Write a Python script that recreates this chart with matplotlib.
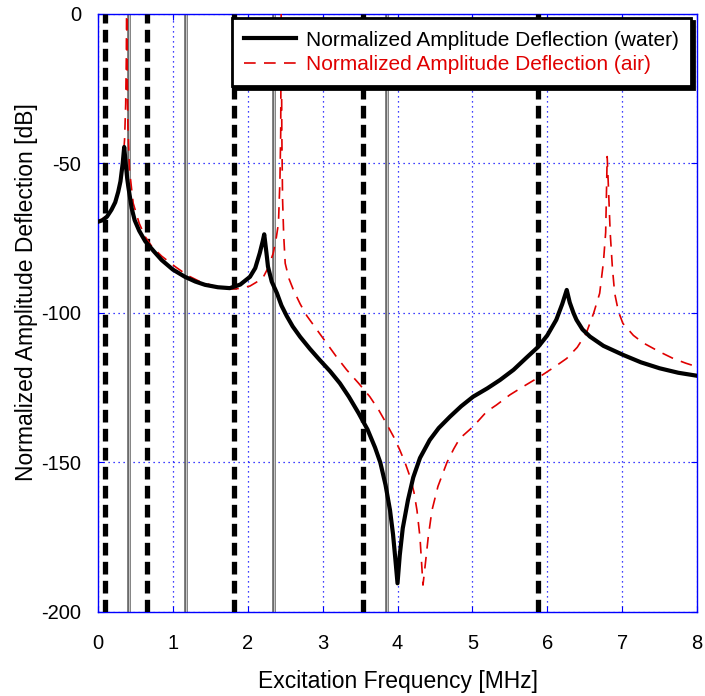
import matplotlib
matplotlib.use("Agg")
import matplotlib.pyplot as plt

plt.rcParams['font.family'] = ['Liberation Sans', 'DejaVu Sans']
plt.rcParams['axes.unicode_minus'] = False

# water curve (black solid)
water_x = [0.0, 0.06, 0.12, 0.18, 0.23, 0.27, 0.30, 0.33, 0.35, 0.37, 0.39, 0.405, 0.45,
           0.49, 0.55, 0.63, 0.75, 0.85, 1.0, 1.16, 1.3, 1.43, 1.6, 1.76, 1.9, 2.03, 2.1,
           2.16, 2.2, 2.22, 2.25, 2.27, 2.32, 2.39, 2.45, 2.52, 2.6, 2.70, 2.83, 2.96, 3.1,
           3.23, 3.35, 3.48, 3.6, 3.7, 3.77, 3.84, 3.90, 3.94, 3.97, 4.0, 4.03, 4.07, 4.14,
           4.21, 4.30, 4.43, 4.55, 4.70, 4.85, 5.01, 5.2, 5.37, 5.55, 5.72, 5.88, 6.0, 6.12,
           6.2, 6.26, 6.3, 6.35, 6.39, 6.47, 6.57, 6.75, 7.01, 7.25, 7.5, 7.75, 8.0]
water_y = [-69.5, -69.0, -67.8, -65.5, -63.0, -59.5, -56.0, -50.0, -44.5, -50.0, -55.0,
           -57.8, -65.0, -69.0, -72.5, -76.0, -79.5, -82.3, -85.5, -87.9, -89.5, -90.6,
           -91.4, -91.7, -90.5, -87.9, -85.0, -80.0, -76.0, -73.7, -80.0, -84.5, -89.5,
           -93.4, -97.5, -101.0, -104.5, -108.0, -112.0, -115.7, -119.5, -123.5, -128.0,
           -133.5, -139.0, -145.0, -150.0, -157.5, -166.0, -174.0, -182.0, -190.4, -181.0,
           -172.0, -162.5, -155.0, -148.5, -142.5, -138.5, -134.7, -131.2, -128.0, -125.2,
           -122.4, -119.0, -115.0, -111.3, -107.5, -102.3, -97.0, -92.3, -96.5, -100.0,
           -102.3, -105.5, -107.9, -111.0, -114.0, -116.5, -118.5, -120.0, -121.0]

# air curve (red dashed)
air_x = [0.0, 0.12, 0.2, 0.26, 0.30, 0.33, 0.355, 0.37, 0.378, 0.383, 0.39, 0.40, 0.42,
         0.47, 0.55, 0.63, 0.72, 0.85, 1.03, 1.2, 1.36, 1.55, 1.76, 1.9, 2.03, 2.13, 2.21,
         2.28, 2.34, 2.38, 2.41, 2.43, 2.44, 2.447, 2.455, 2.465, 2.48, 2.50, 2.55, 2.61,
         2.7, 2.79, 2.92, 3.05, 3.18, 3.32, 3.48, 3.63, 3.75, 3.85, 3.95, 4.03, 4.1, 4.17,
         4.22, 4.26, 4.30, 4.34, 4.38, 4.41, 4.46, 4.54, 4.66, 4.75, 4.83, 5.01, 5.19,
         5.32, 5.50, 5.68, 5.90, 6.1, 6.26, 6.4, 6.52, 6.62, 6.70, 6.75, 6.78, 6.80, 6.82,
         6.84, 6.87, 6.90, 6.95, 7.01, 7.15, 7.28, 7.5, 7.68, 7.85, 8.0]
air_y = [-69.5, -67.5, -64.5, -60.5, -56.0, -51.0, -42.0, -30.0, -15.0, 5.0, -20.0, -38.0,
         -52.0, -63.3, -70.0, -74.5, -77.8, -81.0, -84.5, -87.5, -89.5, -91.0, -92.0,
         -91.8, -91.0, -89.5, -87.9, -84.5, -80.0, -75.0, -70.0, -55.5, -40.0, 5.0, -40.0,
         -62.0, -74.0, -83.4, -88.5, -92.3, -97.0, -101.0, -105.5, -110.0, -114.5, -119.0,
         -123.5, -128.0, -132.5, -136.9, -141.5, -145.8, -150.0, -155.0, -160.0, -166.0,
         -175.0, -191.0, -182.0, -175.0, -166.0, -158.0, -150.0, -145.5, -142.0, -138.0,
         -133.0, -130.8, -127.4, -124.6, -121.3, -118.0, -115.2, -111.5, -106.8, -100.0,
         -93.4, -83.0, -73.0, -47.7, -60.0, -73.0, -85.0, -93.4, -99.5, -103.5, -107.5,
         -110.0, -113.0, -115.2, -116.8, -118.0]

# vertical marker lines
dashed_lines_x = [0.10, 0.65, 1.81, 3.54, 5.88]
gray_lines_x = [0.41, 1.17, 2.35, 3.86]

x_ticks = [0, 1, 2, 3, 4, 5, 6, 7, 8]
y_ticks = [-200, -150, -100, -50, 0]

fig = plt.figure(figsize=(7.05, 6.96), dpi=100)
ax = fig.add_axes([0.139, 0.1207, 0.8497, 0.8593])

ax.set_xlim(0, 8)
ax.set_ylim(-200, 0)
ax.set_xticks(x_ticks)
ax.set_yticks(y_ticks)
ax.grid(True, color='#0000ff', linestyle=(0, (1, 3)), linewidth=0.9)
for s in ax.spines.values():
    s.set_color('#0000ff')
    s.set_linewidth(1.0)
ax.tick_params(direction='in', color='#0000ff', length=4, labelsize=14.5,
               top=True, right=True)
ax.tick_params(axis='x', pad=16)
ax.tick_params(axis='y', pad=12)

for gx in gray_lines_x:
    ax.axvline(gx, color='#666666', linewidth=2.6, zorder=2)
    ax.axvline(gx, color='#c8c8c8', linewidth=0.8, zorder=2)
for dx in dashed_lines_x:
    ax.axvline(dx, color='black', linewidth=3.8, linestyle=(0, (2.4, 1.2)), zorder=3)

ax.plot(air_x, air_y, color='#e00000', linewidth=1.2, dashes=(7, 5), zorder=4,
        label='Normalized Amplitude Deflection (air)')
ax.plot(water_x, water_y, color='black', linewidth=3.0, zorder=5,
        label='Normalized Amplitude Deflection (water)')

h, l = ax.get_legend_handles_labels()
leg = ax.legend(h[::-1], l[::-1], loc='upper right', bbox_to_anchor=(0.99, 0.993),
                borderaxespad=0, fontsize=15, handlelength=2.5, handletextpad=0.45,
                fancybox=False, shadow={'color': 'black', 'alpha': 1.0}, framealpha=1,
                labelcolor=['black', '#e00000'], borderpad=0.6, labelspacing=0.25)
leg.get_frame().set_edgecolor('black')
leg.get_frame().set_linewidth(2.0)
leg.set_zorder(10)

ax.set_xlabel('Excitation Frequency [MHz]', fontsize=16.5, labelpad=12)
ax.set_ylabel('Normalized Amplitude Deflection [dB]', fontsize=16.5, labelpad=1)
ax.yaxis.set_label_coords(-0.100, 0.535)

fig.savefig('out.png', dpi=100)
